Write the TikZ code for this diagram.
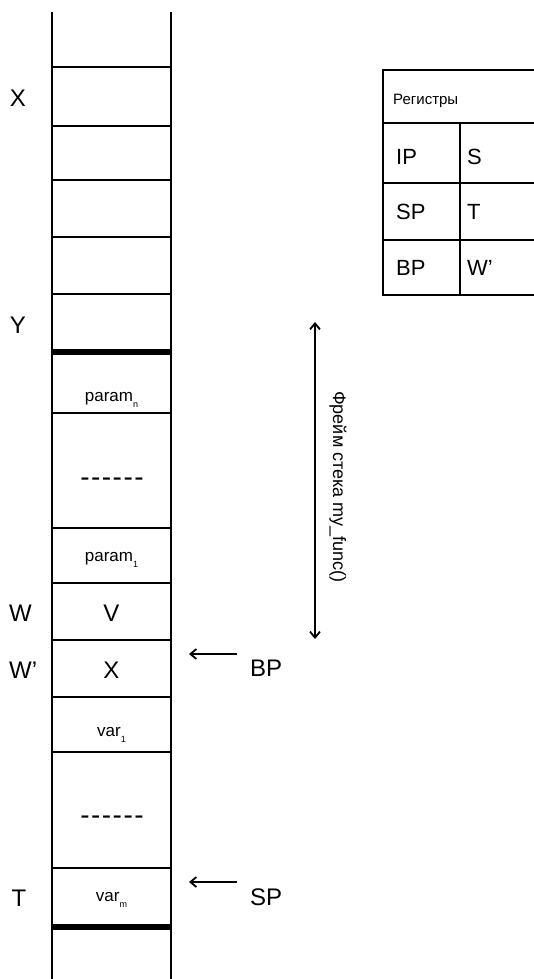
\documentclass[tikz,border=0pt]{standalone}
\usepackage{fontspec}
\setmainfont{Liberation Sans}
\usetikzlibrary{arrows.meta}
\tikzset{
  wall/.style={line width=2.2pt},
  sep/.style={line width=2.2pt},
  thick sep/.style={line width=5.5pt},
  big/.style={inner sep=0pt, font=\fontsize{24}{24}\selectfont},
  mid/.style={inner sep=0pt, font=\fontsize{17}{17}\selectfont},
  reg/.style={inner sep=0pt, anchor=west, font=\fontsize{22}{22}\selectfont},
  dots/.style={inner sep=0pt, font=\fontsize{28}{28}\selectfont},
  ptr/.style={line width=1.8pt, -{Straight Barb[length=6pt,width=10pt,line width=1.8pt]}},
  span/.style={line width=1.8pt, {Straight Barb[length=6pt,width=10pt,line width=1.8pt]}-{Straight Barb[length=6pt,width=10pt,line width=1.8pt]}},
  tbl/.style={line width=1.8pt}
}
\newcommand{\sbs}[1]{\raisebox{-0.4em}{\fontsize{9}{9}\selectfont #1}}
\newcommand{\dashrow}{-\hspace{1.5pt}-\hspace{1.5pt}-\hspace{1.5pt}-\hspace{1.5pt}-\hspace{1.5pt}-}
\begin{document}
\begin{tikzpicture}[x=1pt,y=-1pt]
\useasboundingbox (0,0) rectangle (534,979);
% stack walls
\draw[wall] (52,12) -- (52,979);
\draw[wall] (171,12) -- (171,979);
% separators
\foreach \yy in {67,126,180,237,294,413,528,583,640,697,752,868}
  \draw[sep] (52,\yy) -- (171,\yy);
\draw[thick sep] (52,352) -- (171,352);
\draw[thick sep] (52,927) -- (171,927);
% left labels
\node[big] (lX) at (18,98) {X};
\node[big] (lY) at (18,325) {Y};
\node[big,anchor=west] (lW) at (9,613) {W};
\node[big,anchor=west] (lWp) at (9,670) {W’};
\node[big] (lT) at (19,898) {T};
% cell contents
\node[mid] (pn) at (111.5,400) {param\sbs{n}};
\node[dots] (d1) at (112,482) {\dashrow};
\node[mid] (p1) at (111.5,560) {param\sbs{1}};
\node[big] (cV) at (111.5,613) {V};
\node[big] (cX) at (111.5,670) {X};
\node[mid] (v1) at (111.5,735) {var\sbs{1}};
\node[dots] (d2) at (112,820) {\dashrow};
\node[mid] (vm) at (111.5,900) {var\sbs{m}};
% pointers
\node[big,anchor=west] (BP) at (250,668) {BP};
\node[big,anchor=west] (SP) at (250,897) {SP};
\coordinate (bpA) at (237,654);
\coordinate (bpB) at (189,654);
\coordinate (spA) at (237,882);
\coordinate (spB) at (189,882);
\draw[ptr] (bpA) -- (bpB);
\draw[ptr] (spA) -- (spB);
% frame arrow
\coordinate (fTop) at (315,322);
\coordinate (fBot) at (315,639);
\draw[span] (fTop) -- (fBot);
\node[inner sep=0pt,font=\fontsize{18}{18}\selectfont,rotate=-90] (frame) at (338,487) {Фрейм стека my\_func()};
% registers table
\draw[tbl] (534,70) -- (383,70) -- (383,295) -- (534,295);
\draw[tbl] (383,123) -- (534,123);
\draw[tbl] (383,183) -- (534,183);
\draw[tbl] (383,240) -- (534,240);
\draw[tbl] (460,123) -- (460,295);
\node[inner sep=0pt,anchor=west,font=\fontsize{15}{15}\selectfont] (rt) at (393,101) {Регистры};
\node[reg] (rIP) at (396,157) {IP};
\node[reg] (rS) at (467,157) {S};
\node[reg] (rSP) at (396,212) {SP};
\node[reg] (rT) at (467,212) {T};
\node[reg] (rBP) at (396,268) {BP};
\node[reg] (rW) at (467,268) {W’};
\end{tikzpicture}
\end{document}
